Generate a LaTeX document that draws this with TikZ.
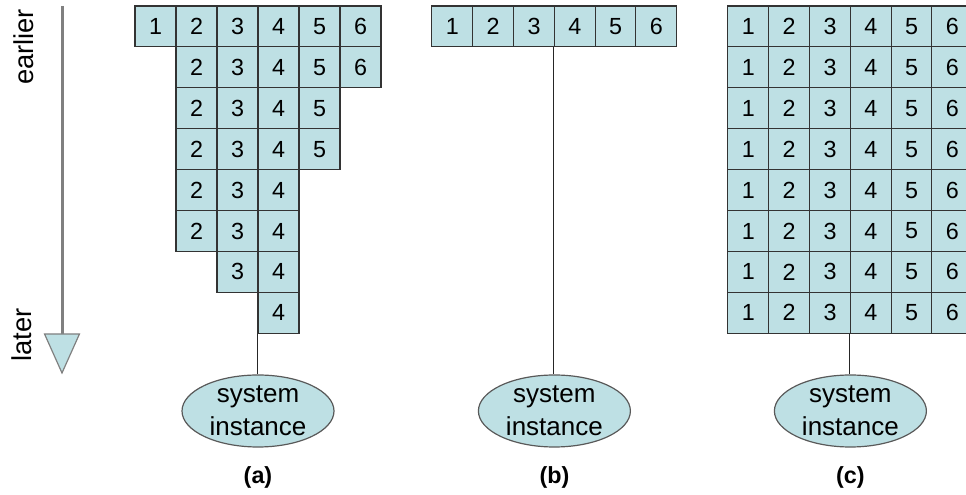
\documentclass[tikz,border=0pt]{standalone}
\usepackage{fontspec}
\setmainfont{Liberation Sans}
\usetikzlibrary{shapes,arrows}
\definecolor{cellblue}{RGB}{190,224,228}
\tikzstyle{cell} = [rectangle, draw=black!80, fill=cellblue, line width=0.8pt,
minimum width=30.75pt, minimum height=30.7pt, inner sep=0pt, font=\fontsize{17.5}{17.5}\selectfont]
\tikzstyle{instance} = [ellipse, draw=black!65, fill=cellblue, line width=0.9pt,
minimum width=114pt, minimum height=54pt, inner sep=0pt, align=center, font=\fontsize{19.5}{25}\selectfont]
\tikzstyle{caption} = [font=\fontsize{17.5}{17.5}\selectfont\bfseries]
\tikzstyle{timetext} = [rotate=90, font=\fontsize{20.5}{20.5}\selectfont]
\tikzstyle{timeline} = [draw, gray, line width=2.25pt]
\tikzstyle{timehead} = [draw=gray, fill=cellblue, line width=0.9pt]
\tikzstyle{line} = [draw, black!85, line width=1pt]

\begin{document}
\begin{tikzpicture}[x=0.75pt, y=0.75pt, node distance=50pt]
	\useasboundingbox (0,0) rectangle (966,495);
	% time axis
	\node [timetext] (earlier) at (24,448) {earlier};
	\node [timetext] (later) at (22,160) {later};
	\coordinate (start) at (62,489);
	\coordinate (stop) at (62,161);
	\path [timeline] (start) -- (stop);
	\path [timehead] ([xshift=-13.1pt]stop) -- ([xshift=13.1pt]stop) -- ([yshift=-29.25pt]stop) -- cycle;
	
	% (a)
	\foreach \r/\first/\last in {1/1/6, 2/2/6, 3/2/5, 4/2/5, 5/2/4, 6/2/4, 7/3/4, 8/4/4}
		\foreach \k in {\first,...,\last}
			\node [cell] (a-\r-\k) at ({155.5+41*(\k-1)}, {468.5-40.9*(\r-1)}) {\k};
	\node [instance] (sysa) at (258,84) {system\\instance};
	\node [caption, below of=sysa] (capa) {(a)};
	\path [line] (a-8-4.south west) -- (a-8-4.south west |- sysa.north);
	
	% (b)
	\foreach \k in {1,...,6}
		\node [cell] (b-\k) at ({452.4+40.8*(\k-1)}, 468.5) {\k};
	\node [instance] (sysb) at (554.4,84) {system\\instance};
	\node [caption, below of=sysb] (capb) {(b)};
	\path [line] (b-4.south west) -- (b-4.south west |- sysb.north);
	
	% (c)
	\foreach \r in {1,...,8}
		\foreach \k in {1,...,6}
			\node [cell] (c-\r-\k) at ({748.4+40.8*(\k-1)}, {468.5-40.9*(\r-1)}) {\k};
	\node [instance] (sysc) at (850.4,84) {system\\instance};
	\node [caption, below of=sysc] (capc) {(c)};
	\path [line] (c-8-4.south west) -- (c-8-4.south west |- sysc.north);
	
\end{tikzpicture}
\end{document}
